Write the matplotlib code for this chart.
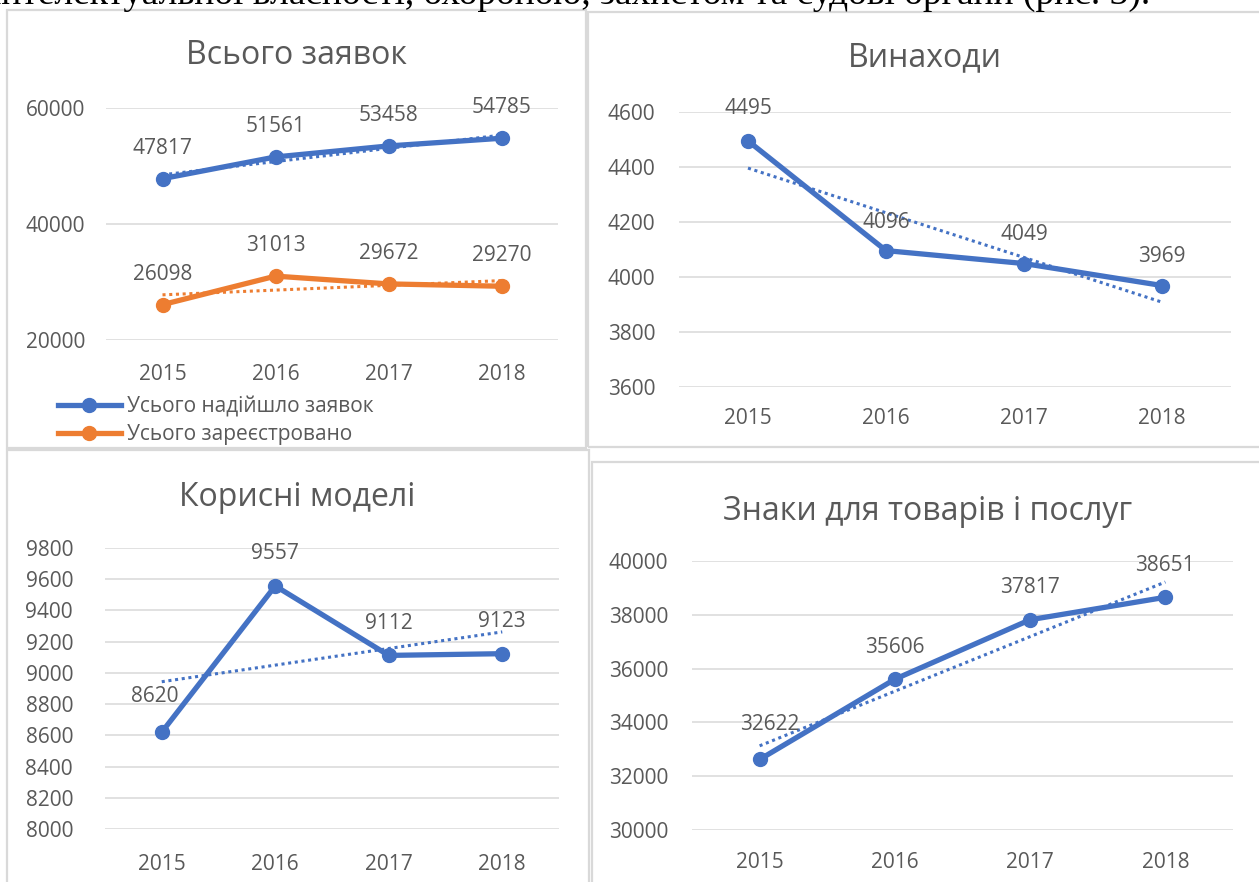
import numpy as np
import matplotlib
matplotlib.use("Agg")
import matplotlib.pyplot as plt
from matplotlib.patches import Rectangle
from matplotlib.lines import Line2D

plt.rcParams['font.family'] = ['Open Sans', 'DejaVu Sans']

years = ["2015", "2016", "2017", "2018"]
total_received = [47817, 51561, 53458, 54785]
total_registered = [26098, 31013, 29672, 29270]
inventions = [4495, 4096, 4049, 3969]
utility_models = [8620, 9557, 9112, 9123]
trademarks = [32622, 35606, 37817, 38651]

titles = ["Всього заявок", "Винаходи", "Корисні моделі", "Знаки для товарів і послуг"]
legend_labels = ["Усього надійшло заявок", "Усього зареєстровано"]
top_text = "інтелектуальної власності, охороною, захистом та судові органи (рис. 3)."

BLUE = "#4472C4"
ORANGE = "#ED7D31"
GRID = "#D9D9D9"
TXT = "#595959"
FS = 15

W, H = 1259, 882
fig = plt.figure(figsize=(W / 100, H / 100), dpi=100)


def ax_px(l, t, r, b):
    return fig.add_axes([l / W, 1 - b / H, (r - l) / W, (b - t) / H])


def panel(l, t, r, b):
    fig.patches.append(Rectangle((l / W, 1 - b / H), (r - l) / W, (b - t) / H,
                                 transform=fig.transFigure, fill=False,
                                 edgecolor="#D9D9D9", lw=1.6, zorder=0))


def style(ax, ylim, yticks, ypad, xpad):
    x = np.arange(len(years))
    ax.set_xlim(-0.5, len(years) - 0.5)
    ax.set_ylim(*ylim)
    ax.set_yticks(yticks)
    ax.set_yticklabels([str(v) for v in yticks])
    ax.set_xticks(x)
    ax.set_xticklabels(years)
    for s in ax.spines.values():
        s.set_visible(False)
    ax.tick_params(axis='both', length=0, labelsize=FS, colors=TXT)
    ax.tick_params(axis='y', pad=ypad)
    ax.tick_params(axis='x', pad=xpad)
    ax.grid(axis='y', color=GRID, lw=1.1)
    ax.set_axisbelow(True)
    ax.patch.set_alpha(0)


def series(ax, vals, color, label=None, offsets=None):
    x = np.arange(len(vals))
    ax.plot(x, vals, color=color, lw=3.8, marker='o', ms=10, label=label,
            solid_capstyle='round', zorder=3)
    k, c = np.polyfit(x, vals, 1)
    ax.plot(x, k * x + c, color=color, lw=2.2, ls=(0, (1, 1.2)), zorder=2)
    for i, v in enumerate(vals):
        dx, dy = (0, 22) if offsets is None else offsets[i]
        ax.annotate(str(v), (x[i], v), xytext=(dx, dy), textcoords='offset points',
                    ha='center', va='center', fontsize=FS, color=TXT, zorder=4)


# panel borders
panel(7, 10, 586, 448)
panel(588, 12, 1262, 447)
panel(7, 450, 589, 886)
panel(592, 462, 1262, 886)

# top clipped text (only its lower part is visible, as in the reference)
fig.text(1150 / W, 1 - 4 / H, top_text, ha='right', va='baseline',
         fontsize=27, family='Liberation Serif', color='black')

# Panel 1
ax1 = ax_px(106, 108, 558, 340)
style(ax1, (20000, 60000), [20000, 40000, 60000], 15, 17)
series(ax1, total_received, BLUE, legend_labels[0])
series(ax1, total_registered, ORANGE, legend_labels[1])
fig.text(297 / W, 1 - 56 / H, titles[0], ha='center', va='center', fontsize=23, color=TXT)
handles = [Line2D([0], [0], color=BLUE, lw=3.8, marker='o', ms=10),
           Line2D([0], [0], color=ORANGE, lw=3.8, marker='o', ms=10)]
fig.legend(handles, legend_labels, loc='upper left',
           bbox_to_anchor=(58 / W, 1 - 396 / H), frameon=False, fontsize=FS,
           labelcolor=TXT, handlelength=3.0, handletextpad=0.3, labelspacing=0.35,
           borderpad=0, borderaxespad=0)

# Panel 2
ax2 = ax_px(679, 112, 1231, 387)
style(ax2, (3600, 4600), [3600, 3800, 4000, 4200, 4400, 4600], 17, 15)
series(ax2, inventions, BLUE, offsets=[(0, 23), (0, 20), (0, 21), (0, 21)])
fig.text(925 / W, 1 - 58 / H, titles[1], ha='center', va='center', fontsize=23, color=TXT)

# Panel 3
ax3 = ax_px(105, 548, 559, 829)
style(ax3, (8000, 9800), list(range(8000, 9801, 200)), 23, 18)
series(ax3, utility_models, BLUE, offsets=[(-5, 26), (0, 23), (0, 23), (0, 23)])
fig.text(297 / W, 1 - 498 / H, titles[2], ha='center', va='center', fontsize=23, color=TXT)

# Panel 4
ax4 = ax_px(692, 561, 1233, 830)
style(ax4, (30000, 40000), list(range(30000, 40001, 2000)), 17, 16)
series(ax4, trademarks, BLUE, offsets=[(7, 25), (0, 23), (0, 23), (0, 23)])
fig.text(928 / W, 1 - 511 / H, titles[3], ha='center', va='center', fontsize=23, color=TXT)

fig.savefig("out.png", dpi=100, facecolor='white')
